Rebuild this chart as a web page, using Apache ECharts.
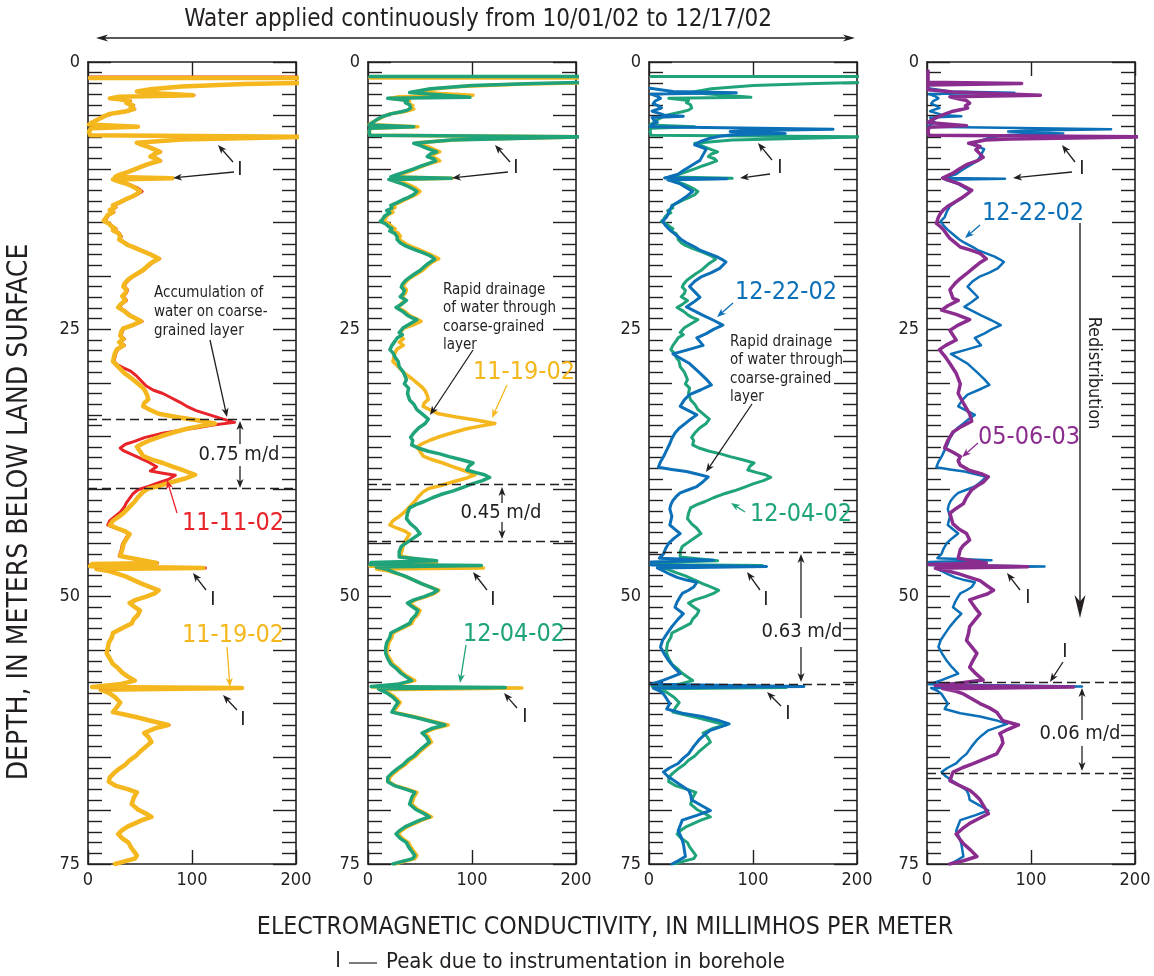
<!DOCTYPE html>
<html><head><meta charset="utf-8">
<script src="https://cdn.jsdelivr.net/npm/echarts@6/dist/echarts.min.js"></script>
<style>html,body{margin:0;padding:0;background:#fff}#c{width:1154px;height:976px}</style>
</head><body><div id="c"></div>
<script>
// ---------- DATA (conductivity mmho/m, depth m) ----------
const xTickValues = [0, 100, 200];
const depthLabels = [0, 25, 50, 75];

const log_11_11_02 = [
[2,1.4],[210,1.4],[210,1.95],[150,2.05],[90,2.3],[60,2.55],[48,2.75],[70,2.95],[102,3.1],[30,3.25],[21,3.4],[32,3.5],[41,3.65],[38,3.85],[44,4.05],[42,4.25],[45,4.4],[38,4.6],[29,4.75],[22,4.85],[17,5.05],[12,5.25],[8,5.45],[4,5.65],[1,5.85],[48,6.05],[3,6.2],[1,6.5],[2,6.85],[210,7.0],[210,7.1],[90,7.25],[48,7.55],[53,7.75],[58,7.9],[64,8.15],[70,8.4],[65,8.6],[61,8.85],[67,9.05],[70,9.25],[62,9.45],[56,9.65],[47,10.0],[39,10.3],[31,10.55],[27,10.75],[81,10.88],[25,10.98],[31,11.2],[37,11.35],[42,11.55],[48,11.8],[52,12.1],[48,12.35],[43,12.6],[37,12.85],[32,13.1],[25,13.4],[27,13.6],[22,13.85],[25,14.05],[20,14.3],[18,14.6],[16,14.85],[21,15.1],[24,15.4],[27,15.6],[25,15.75],[30,16.0],[32,16.3],[31,16.6],[35,16.85],[39,17.1],[44,17.3],[49,17.5],[55,17.75],[61,18.0],[65,18.2],[69,18.4],[64,18.65],[61,18.85],[58,19.1],[54,19.45],[49,19.75],[43,20.1],[39,20.4],[36,20.75],[35,21.0],[38,21.3],[37,21.6],[34,21.9],[37,22.3],[33,22.6],[30,22.95],[36,23.3],[41,23.7],[46,23.95],[52,24.25],[44,24.6],[35,24.9],[33,25.2],[32,25.6],[35,25.9],[31,26.2],[35,26.5],[29,26.85],[27,27.2],[26,27.55],[25,28.0],[28,28.3],[34,28.6],[41,28.9],[46,29.3],[52,29.9],[56,30.3],[63,30.7],[72,31.0],[80,31.4],[88,31.8],[95,32.2],[104,32.6],[117,33.0],[130,33.4],[141,33.7],[120,33.95],[105,34.2],[88,34.45],[70,34.75],[55,35.1],[44,35.5],[36,35.75],[31,36.1],[34,36.35],[42,36.7],[50,37.05],[58,37.4],[66,37.85],[60,38.25],[72,38.45],[84,38.65],[78,39.0],[68,39.35],[58,39.7],[48,40.0],[43,40.4],[40,40.8],[37,41.2],[35,41.6],[31,42.1],[26,42.5],[21,42.9],[19,43.3],[27,43.6],[35,43.9],[39,44.15],[36,44.6],[33,45.1],[32,45.6],[30,46.2],[67,46.85],[4,46.95],[2,47.15],[113,47.32],[8,47.42],[20,47.6],[28,47.85],[36,48.1],[44,48.45],[52,48.8],[60,49.1],[68,49.4],[64,49.7],[56,50.0],[46,50.3],[40,50.6],[44,50.9],[50,51.3],[48,51.7],[44,52.1],[42,52.5],[36,52.8],[30,53.1],[24,53.4],[23,53.8],[20,54.3],[19,54.8],[18,55.3],[21,55.8],[24,56.3],[29,56.7],[33,57.1],[38,57.45],[45,57.85],[30,58.2],[4,58.45],[140,58.55],[12,58.7],[20,59.0],[26,59.4],[31,59.9],[28,60.3],[24,60.8],[34,61.0],[48,61.3],[62,61.65],[78,62.0],[65,62.3],[54,62.75],[58,63.1],[61,63.6],[56,64.0],[50,64.5],[46,64.9],[40,65.3],[36,65.7],[30,66.1],[25,66.5],[21,66.9],[20,67.3],[27,67.7],[38,68.0],[47,68.3],[44,68.8],[42,69.4],[48,69.9],[56,70.3],[61,70.6],[52,70.9],[45,71.2],[38,71.5],[32,71.9],[29,72.2],[33,72.6],[39,73.0],[41,73.4],[44,73.8],[47,74.2],[45,74.5],[35,74.75],[26,75.0]
];

const log_11_19_02 = [
[2,1.5],[210,1.5],[210,1.95],[150,2.05],[90,2.3],[60,2.55],[47,2.75],[70,2.95],[101,3.1],[30,3.25],[21,3.4],[32,3.5],[40,3.65],[37,3.85],[43,4.05],[41,4.25],[44,4.4],[37,4.6],[28,4.75],[21,4.85],[16,5.05],[12,5.25],[8,5.45],[4,5.65],[1,5.85],[48,6.05],[3,6.2],[1,6.5],[2,6.85],[210,7.0],[210,7.1],[90,7.25],[47,7.55],[52,7.75],[57,7.9],[63,8.15],[69,8.4],[64,8.6],[60,8.85],[66,9.05],[69,9.25],[61,9.45],[55,9.65],[46,10.0],[38,10.3],[30,10.55],[26,10.75],[81,10.88],[24,10.98],[30,11.2],[36,11.35],[41,11.55],[46,11.8],[50,12.1],[47,12.35],[42,12.6],[36,12.85],[31,13.1],[24,13.4],[26,13.6],[21,13.85],[24,14.05],[19,14.3],[17,14.6],[15,14.85],[20,15.1],[23,15.4],[26,15.6],[24,15.75],[29,16.0],[31,16.3],[30,16.6],[34,16.85],[38,17.1],[43,17.3],[48,17.5],[54,17.75],[60,18.0],[64,18.2],[68,18.4],[63,18.65],[60,18.85],[57,19.1],[53,19.45],[48,19.75],[42,20.1],[38,20.4],[35,20.75],[34,21.0],[37,21.3],[36,21.6],[33,21.9],[36,22.3],[32,22.6],[29,22.95],[35,23.3],[40,23.7],[45,23.95],[51,24.25],[43,24.6],[34,24.9],[32,25.2],[31,25.6],[34,25.9],[30,26.2],[34,26.5],[28,26.85],[26,27.2],[25,27.55],[24,28.0],[27,28.3],[31,28.7],[35,29.1],[42,29.6],[47,30.0],[52,30.4],[55,30.75],[57,31.2],[58,31.55],[54,31.9],[53,32.2],[60,32.55],[68,32.9],[85,33.2],[105,33.5],[122,33.8],[108,34.05],[95,34.3],[82,34.65],[70,35.0],[60,35.35],[52,35.7],[47,36.0],[50,36.4],[53,36.85],[62,37.2],[72,37.5],[80,37.8],[92,38.2],[103,38.6],[95,38.9],[82,39.25],[70,39.6],[58,39.9],[53,40.2],[48,40.7],[45,41.1],[40,41.6],[35,42.1],[30,42.5],[24,42.9],[21,43.3],[28,43.6],[36,43.9],[40,44.15],[37,44.6],[34,45.1],[33,45.6],[31,46.2],[66,46.85],[4,46.95],[2,47.15],[111,47.32],[8,47.42],[20,47.6],[28,47.85],[36,48.1],[44,48.45],[52,48.8],[60,49.1],[68,49.4],[64,49.7],[56,50.0],[46,50.3],[40,50.6],[44,50.9],[50,51.3],[48,51.7],[44,52.1],[42,52.5],[36,52.8],[30,53.1],[24,53.4],[23,53.8],[20,54.3],[19,54.8],[18,55.3],[21,55.8],[24,56.3],[29,56.7],[33,57.1],[38,57.45],[45,57.85],[30,58.2],[4,58.45],[148,58.55],[12,58.7],[20,59.0],[26,59.4],[31,59.9],[28,60.3],[24,60.8],[34,61.0],[48,61.3],[62,61.65],[77,62.0],[65,62.3],[54,62.75],[58,63.1],[61,63.6],[56,64.0],[50,64.5],[46,64.9],[40,65.3],[36,65.7],[30,66.1],[25,66.5],[21,66.9],[20,67.3],[27,67.7],[38,68.0],[47,68.3],[44,68.8],[42,69.4],[48,69.9],[56,70.3],[61,70.6],[52,70.9],[45,71.2],[38,71.5],[32,71.9],[29,72.2],[33,72.6],[39,73.0],[41,73.4],[44,73.8],[47,74.2],[45,74.5],[35,74.75],[26,75.0]
];

const log_12_04_02 = [
[2,1.35],[210,1.35],[210,1.9],[160,2.0],[100,2.2],[60,2.5],[40,2.85],[98,3.3],[19,3.4],[30,3.5],[38,3.6],[36,3.8],[40,4.0],[41,4.3],[38,4.5],[32,4.65],[22,4.85],[14,5.1],[9,5.35],[6,5.55],[3,5.75],[1,5.9],[44,6.05],[2,6.2],[1,6.5],[2,6.85],[210,7.0],[210,7.1],[80,7.3],[44,7.6],[50,7.8],[55,8.0],[60,8.2],[66,8.4],[60,8.6],[57,8.85],[63,9.05],[65,9.25],[58,9.5],[52,9.7],[44,10.0],[35,10.3],[27,10.55],[22,10.75],[80,10.88],[20,10.98],[27,11.2],[33,11.4],[38,11.6],[43,11.85],[47,12.1],[44,12.4],[39,12.65],[33,12.9],[28,13.15],[22,13.4],[23,13.65],[18,13.9],[21,14.1],[16,14.4],[14,14.7],[12,14.9],[17,15.15],[20,15.4],[23,15.6],[21,15.8],[26,16.05],[28,16.35],[28,16.6],[31,16.9],[35,17.15],[40,17.35],[46,17.6],[52,17.8],[58,18.05],[62,18.25],[64,18.45],[60,18.7],[57,18.9],[54,19.15],[50,19.5],[45,19.8],[40,20.15],[36,20.45],[33,20.8],[32,21.05],[35,21.35],[34,21.65],[31,21.95],[37,22.3],[33,22.6],[27,22.95],[33,23.3],[38,23.7],[42,23.9],[47,24.1],[40,24.5],[34,24.85],[30,25.3],[33,25.5],[28,25.8],[26,26.1],[23,26.5],[21,26.9],[24,27.2],[26,27.6],[29,28.0],[30,28.5],[34,29.0],[37,29.7],[35,30.1],[39,30.5],[38,31.0],[40,31.6],[44,32.0],[47,32.5],[52,32.9],[58,33.4],[55,33.8],[49,34.2],[44,34.7],[41,35.1],[43,35.4],[42,35.8],[48,36.1],[58,36.4],[69,36.65],[78,36.9],[90,37.2],[101,37.5],[97,37.8],[95,38.15],[104,38.4],[112,38.6],[117,38.85],[110,39.15],[100,39.45],[92,39.75],[82,40.1],[70,40.45],[62,40.75],[54,41.1],[46,41.4],[40,41.7],[38,42.2],[37,42.7],[41,43.2],[46,43.6],[50,44.1],[44,44.5],[38,44.9],[32,45.3],[30,45.8],[30,46.3],[66,46.65],[3,46.8],[2,47.0],[109,47.08],[8,47.22],[18,47.45],[26,47.75],[35,48.05],[43,48.4],[52,48.8],[60,49.1],[67,49.4],[62,49.7],[54,50.0],[44,50.3],[38,50.6],[42,50.9],[48,51.3],[46,51.7],[42,52.1],[40,52.5],[34,52.8],[28,53.1],[22,53.4],[21,53.8],[18,54.3],[17,54.8],[17,55.3],[19,55.8],[22,56.3],[27,56.7],[31,57.1],[36,57.45],[42,57.85],[28,58.2],[3,58.4],[132,58.5],[10,58.62],[18,59.0],[24,59.4],[29,59.9],[26,60.3],[23,60.8],[32,61.0],[46,61.3],[60,61.65],[74,62.0],[62,62.3],[52,62.75],[56,63.1],[59,63.6],[54,64.0],[48,64.5],[44,64.9],[38,65.3],[34,65.7],[28,66.1],[23,66.5],[19,66.9],[19,67.3],[26,67.7],[36,68.0],[45,68.3],[42,68.8],[40,69.4],[46,69.9],[54,70.3],[59,70.6],[50,70.9],[43,71.2],[36,71.5],[30,71.9],[27,72.2],[31,72.6],[37,73.0],[39,73.4],[42,73.8],[45,74.2],[43,74.5],[33,74.75],[24,75.0]
];

const log_12_22_02 = [
[1,2.45],[23,2.75],[84,2.88],[2,3.0],[8,3.2],[11,3.4],[6,3.65],[4,3.9],[9,4.1],[12,4.3],[7,4.45],[3,4.6],[10,4.8],[14,4.95],[33,5.08],[3,5.2],[5,5.45],[8,5.65],[3,5.85],[1,6.05],[177,6.28],[100,6.4],[78,6.5],[131,6.68],[80,6.8],[68,6.95],[58,7.15],[49,7.45],[44,7.75],[50,7.95],[55,8.15],[53,8.5],[51,8.85],[49,9.2],[44,9.5],[39,9.8],[33,10.15],[28,10.5],[18,10.78],[15,10.85],[75,10.92],[18,11.02],[24,11.2],[30,11.4],[36,11.75],[42,12.1],[37,12.5],[31,12.9],[26,13.2],[22,13.5],[19,14.0],[17,14.5],[13,14.9],[16,15.3],[20,15.7],[25,16.1],[31,16.6],[36,16.9],[40,17.1],[45,17.35],[49,17.6],[57,17.9],[65,18.2],[70,18.45],[74,18.7],[71,19.0],[68,19.3],[60,19.7],[50,20.1],[44,20.5],[39,21.0],[44,21.5],[49,22.0],[43,22.45],[36,22.9],[44,23.3],[52,23.7],[62,24.15],[71,24.6],[62,25.0],[55,25.4],[46,25.8],[49,26.15],[52,26.5],[38,26.9],[23,27.3],[31,27.75],[39,28.2],[44,28.65],[49,29.1],[55,29.65],[60,30.2],[50,30.65],[39,31.1],[34,31.6],[30,32.2],[38,32.6],[46,33.0],[40,33.4],[35,33.8],[29,34.25],[25,34.7],[22,35.2],[20,35.7],[17,36.3],[14,36.9],[11,37.4],[9,37.9],[22,38.1],[36,38.3],[47,38.55],[57,38.8],[52,39.25],[46,39.7],[38,40.0],[30,40.3],[26,40.65],[23,41.0],[21,41.4],[20,41.8],[22,42.5],[20,43.3],[25,43.7],[30,44.1],[24,44.55],[19,45.0],[16,45.5],[14,46.0],[10,46.4],[62,46.6],[2,46.75],[2,47.05],[113,47.18],[8,47.32],[14,47.6],[20,47.9],[27,48.2],[36,48.45],[46,48.65],[43,49.1],[38,49.4],[32,49.7],[30,50.0],[27,50.5],[25,51.0],[33,51.6],[28,52.1],[22,52.8],[17,53.5],[13,54.1],[11,54.7],[15,55.4],[19,56.0],[24,56.6],[30,57.2],[14,57.8],[2,58.2],[149,58.4],[4,58.55],[10,58.8],[14,59.1],[20,60.0],[17,60.5],[32,60.9],[51,61.2],[66,61.55],[77,61.9],[68,62.2],[59,62.5],[53,62.95],[48,63.4],[43,64.0],[38,64.7],[33,65.1],[28,65.6],[20,66.0],[14,66.4],[18,66.8],[24,67.2],[31,67.65],[38,68.1],[40,68.5],[41,69.0],[50,69.5],[59,70.0],[46,70.45],[32,70.9],[30,71.4],[28,71.9],[31,72.5],[33,73.1],[34,73.7],[35,74.3],[28,74.7],[22,75.0]
];

const log_05_06_03 = [
[1,0.85],[1,1.9],[91,2.0],[1,2.15],[1,2.6],[25,2.8],[109,3.1],[22,3.25],[30,3.45],[38,3.6],[41,3.85],[37,4.1],[39,4.3],[33,4.45],[25,4.6],[19,4.8],[14,5.0],[9,5.2],[5,5.4],[1,5.65],[38,5.95],[2,6.1],[1,6.5],[2,6.85],[210,7.0],[210,7.1],[80,7.2],[56,7.3],[40,7.6],[46,7.75],[51,7.9],[47,8.2],[50,8.5],[54,8.9],[48,9.25],[38,9.6],[31,10.0],[25,10.4],[15,10.85],[31,11.4],[37,11.7],[43,12.0],[39,12.3],[35,12.6],[30,12.9],[25,13.2],[20,13.5],[16,13.8],[13,14.15],[11,14.5],[10,14.8],[9,15.1],[13,15.4],[16,15.7],[19,16.1],[22,16.5],[27,16.9],[32,17.3],[42,17.6],[51,17.9],[57,18.4],[52,18.7],[48,19.0],[43,19.4],[38,19.8],[32,20.25],[27,20.7],[22,21.3],[25,22.1],[30,22.3],[20,22.8],[14,23.2],[28,23.6],[41,24.1],[30,24.6],[22,25.1],[28,26.0],[18,26.5],[12,26.9],[17,27.5],[22,28.2],[28,29.1],[32,30.1],[30,31.0],[35,31.9],[41,32.9],[43,33.6],[33,34.1],[25,34.6],[20,35.4],[17,36.1],[25,36.5],[32,36.9],[30,37.3],[32,37.7],[41,38.2],[52,38.5],[59,38.8],[54,39.3],[48,39.65],[43,40.0],[38,40.7],[35,41.3],[28,41.75],[22,42.2],[25,43.2],[31,43.7],[38,44.1],[41,44.7],[35,45.2],[32,45.6],[30,46.4],[57,46.85],[2,47.0],[97,47.2],[8,47.35],[20,47.6],[30,47.85],[38,48.1],[51,48.5],[58,49.0],[64,49.4],[58,49.75],[50,50.0],[41,50.3],[46,51.0],[51,51.6],[46,52.2],[41,52.8],[40,53.4],[38,54.1],[43,54.7],[48,55.3],[44,56.0],[41,56.6],[47,57.2],[54,57.8],[30,58.1],[8,58.3],[141,58.45],[15,58.6],[28,58.85],[35,59.1],[43,59.55],[51,60.0],[60,60.4],[67,60.8],[70,61.2],[73,61.6],[88,62.0],[78,62.4],[70,62.8],[72,63.2],[73,63.7],[70,64.2],[67,64.7],[56,65.15],[45,65.6],[34,66.0],[25,66.4],[22,67.2],[30,67.6],[41,68.1],[46,68.5],[51,69.0],[55,69.65],[59,70.3],[50,70.75],[41,71.2],[34,71.7],[28,72.2],[31,72.6],[35,73.1],[42,73.7],[48,74.3],[35,74.7],[22,75.0]
];

// depths of wetting-front markers (dashed lines) per panel
const frontDepths = [[33.4, 39.9], [39.5, 44.8], [45.8, 58.2], [58.0, 66.5]];

// ---------- STYLE / LAYOUT ----------
const FONT = '"Liberation Sans Narrow","Arial Narrow","DejaVu Sans Condensed","Roboto Condensed",sans-serif';
const INK = '#231f20';
const COL = {red:'#e8232a', yellow:'#f5b71e', green:'#1fa37a', blue:'#0b70b8', purple:'#8b2d8f'};
const panelLeft = [88, 368, 649, 927];
const GT = 62, GW = 208, GH = 802;

const panels = [
  [{d:log_11_11_02, c:COL.red, w:3}, {d:log_11_19_02, c:COL.yellow, w:4.5}],
  [{d:log_11_19_02, c:COL.yellow, w:3.5}, {d:log_12_04_02, c:COL.green, w:3.5}],
  [{d:log_12_04_02, c:COL.green, w:3}, {d:log_12_22_02, c:COL.blue, w:3}],
  [{d:log_12_22_02, c:COL.blue, w:2.5}, {d:log_05_06_03, c:COL.purple, w:3.5}]
];

const grid=[], xAxis=[], yAxis=[], series=[];
panels.forEach((p, i) => {
  grid.push({left:panelLeft[i], top:GT, width:GW, height:GH});
  const axl = () => ({show:true, onZero:false, lineStyle:{color:INK, width:1.6}});
  const xBase = () => ({gridIndex:i, type:'value', min:xTickValues[0], max:xTickValues[2], interval:100,
    axisLine:axl(), splitLine:{show:false},
    axisTick:{show:true, inside:true, length:14, lineStyle:{color:INK, width:1.4}}});
  xAxis.push(Object.assign(xBase(), {position:'bottom',
    axisLabel:{show:true, fontSize:18, color:INK, fontFamily:FONT, margin:7}}));
  xAxis.push(Object.assign(xBase(), {position:'top', axisLabel:{show:false}}));
  const yBase = () => ({gridIndex:i, type:'value', min:0, max:75, interval:5, inverse:true,
    axisLine:axl(), splitLine:{show:false},
    axisTick:{show:true, inside:true, length:23, lineStyle:{color:INK, width:1.4}},
    minorTick:{show:true, splitNumber:5, length:14, lineStyle:{color:INK, width:1.4}}});
  yAxis.push(Object.assign(yBase(), {position:'left',
    axisLabel:{show:true, fontSize:18, color:INK, fontFamily:FONT, margin:8,
      formatter:v => depthLabels.includes(v) ? String(v) : ''}}));
  yAxis.push(Object.assign(yBase(), {position:'right', axisLabel:{show:false}}));
  p.forEach((s, k) => {
    const ser = {type:'line', xAxisIndex:2*i, yAxisIndex:2*i, data:s.d, showSymbol:false, symbol:'none',
      clip:true, animation:false, silent:true, z:2+k,
      lineStyle:{color:s.c, width:s.w, join:'round', cap:'round'}};
    if (k === 1) {
      ser.markLine = {symbol:['none','none'], silent:true, animation:false, label:{show:false},
        lineStyle:{type:[9,5], color:INK, width:1.3},
        data: frontDepths[i].map(d => ({yAxis:d}))};
    }
    series.push(ser);
  });
});

// ---------- ANNOTATIONS ----------
const G = [];
function txt(x, y, s, size, color, align, rot) {
  G.push({type:'text', x:x, y:y, rotation:rot||0, z:100, silent:true,
    style:{text:s, font:size+'px '+FONT, fill:color||INK, textAlign:align||'left', textVerticalAlign:'middle'}});
}
function arrow(x1, y1, x2, y2, color, hl, hw, lw) {
  color = color||INK; hl = hl||9; hw = hw||3.5; lw = lw||1.3;
  const dx=x2-x1, dy=y2-y1, L=Math.hypot(dx,dy), ux=dx/L, uy=dy/L;
  const bx=x2-ux*hl, by=y2-uy*hl;
  G.push({type:'line', z:100, silent:true, shape:{x1:x1, y1:y1, x2:x2-ux*hl*0.6, y2:y2-uy*hl*0.6},
    style:{stroke:color, lineWidth:lw}});
  G.push({type:'polygon', z:100, silent:true, shape:{points:[[x2,y2],[bx-uy*hw,by+ux*hw],[x2-ux*hl*0.72,y2-uy*hl*0.72],[bx+uy*hw,by-ux*hw]]},
    style:{fill:color}});
}
// top
txt(478, 20, 'Water applied continuously from 10/01/02 to 12/17/02', 24, INK, 'center');
arrow(470, 38, 96, 38, INK, 12, 3.5, 1.5); arrow(470, 38, 855, 38, INK, 12, 3.5, 1.5);
// axis titles
txt(20, 512, 'DEPTH, IN METERS BELOW LAND SURFACE', 28, INK, 'center', Math.PI/2);
txt(605, 928, 'ELECTROMAGNETIC CONDUCTIVITY, IN MILLIMHOS PER METER', 24.7, INK, 'center');
// legend
txt(338, 962, 'I', 21, INK, 'center');
G.push({type:'line', z:100, silent:true, shape:{x1:349,y1:963,x2:377,y2:963}, style:{stroke:INK, lineWidth:1.2}});
txt(386, 962, 'Peak due to instrumentation in borehole', 22, INK, 'left');

// panel 1
txt(154, 293, 'Accumulation of', 15); txt(154, 312, 'water on coarse-', 15); txt(154, 331, 'grained layer', 15);
arrow(210, 340, 227, 417);
txt(239, 455, '0.75 m/d', 20, INK, 'center');
arrow(240, 444, 240, 421); arrow(240, 466, 240, 488);
txt(182, 523, '11-11-02', 25, COL.red);
arrow(177, 513, 167, 480, COL.red);
txt(240, 170, 'I', 20, INK, 'center'); arrow(233, 162, 218, 145); arrow(234, 172, 173, 178);
txt(213, 600, 'I', 20, INK, 'center'); arrow(206, 590, 193, 573);
txt(182, 635, '11-19-02', 25, COL.yellow);
arrow(227, 647, 230, 687, COL.yellow);
txt(243, 720, 'I', 20, INK, 'center'); arrow(237, 710, 223, 695);
// panel 2
txt(516, 168, 'I', 20, INK, 'center'); arrow(510, 162, 495, 145); arrow(508, 172, 452, 178);
txt(443, 290, 'Rapid drainage', 15); txt(443, 308.5, 'of water through', 15); txt(443, 327, 'coarse-grained', 15); txt(443, 345.5, 'layer', 15);
arrow(473, 350, 430, 415);
txt(473, 372, '11-19-02', 25, COL.yellow);
arrow(507, 385, 492, 418, COL.yellow);
txt(501, 513, '0.45 m/d', 20, INK, 'center');
arrow(502, 503, 502, 487); arrow(502, 522, 502, 539);
txt(493, 600, 'I', 20, INK, 'center'); arrow(487, 590, 473, 572);
txt(463, 634, '12-04-02', 25, COL.green);
arrow(466, 645, 460, 683, COL.green);
txt(525, 717, 'I', 20, INK, 'center'); arrow(517, 708, 504, 693);
// panel 3
txt(780, 168, 'I', 20, INK, 'center'); arrow(772, 160, 758, 143); arrow(770, 174, 740, 178);
txt(735, 292, '12-22-02', 25, COL.blue);
arrow(733, 303, 717, 317, COL.blue);
txt(730, 342, 'Rapid drainage', 15); txt(730, 360.5, 'of water through', 15); txt(730, 379, 'coarse-grained', 15); txt(730, 397.5, 'layer', 15);
arrow(752, 404, 706, 472);
txt(750, 514, '12-04-02', 25, COL.green);
arrow(745, 512, 731, 503, COL.green);
txt(802, 632, '0.63 m/d', 20, INK, 'center');
arrow(801, 618, 801, 554); arrow(801, 647, 801, 682);
txt(766, 600, 'I', 20, INK, 'center'); arrow(760, 590, 747, 572);
txt(788, 714, 'I', 20, INK, 'center'); arrow(781, 706, 767, 692);
// panel 4
txt(1082, 169, 'I', 20, INK, 'center'); arrow(1075, 162, 1062, 145); arrow(1072, 172, 1013, 178);
txt(982, 213, '12-22-02', 25, COL.blue);
arrow(980, 225, 965, 238, COL.blue);
arrow(1080, 223, 1080, 618, INK, 23, 5.5, 1.4);
txt(1094, 373, 'Redistribution', 18, INK, 'center', -Math.PI/2);
txt(978, 437, '05-06-03', 25, COL.purple);
arrow(978, 443, 962, 457, COL.purple);
txt(1028, 598, 'I', 20, INK, 'center'); arrow(1020, 590, 1007, 573);
txt(1065, 652, 'I', 20, INK, 'center'); arrow(1063, 662, 1050, 682);
txt(1080, 734, '0.06 m/d', 20, INK, 'center');
arrow(1082, 720, 1082, 688); arrow(1082, 746, 1082, 771);

const chart = echarts.init(document.getElementById('c'), null, {renderer:'canvas'});
chart.setOption({animation:false, backgroundColor:'#fff', grid, xAxis, yAxis, series, graphic:{elements:G}});
</script></body></html>
